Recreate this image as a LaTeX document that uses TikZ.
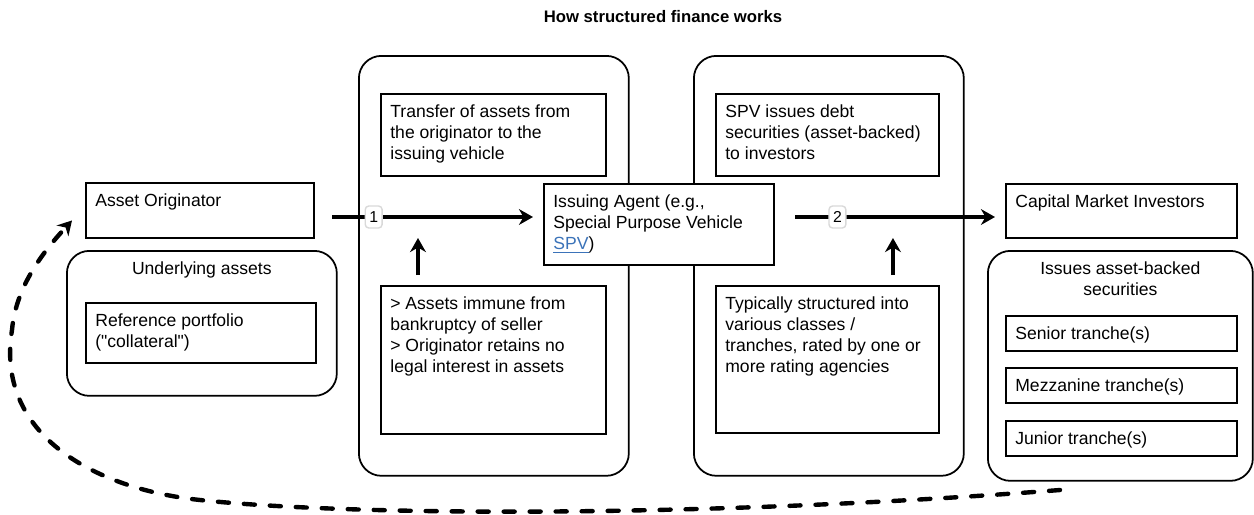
\documentclass[tikz,border=0pt]{standalone}
\usepackage{fontspec}
\setmainfont{Liberation Sans}
\newfontfamily\plainfont{Liberation Sans}
\usetikzlibrary{arrows.meta}
\definecolor{linkblue}{HTML}{3B73B9}

\begin{document}
\begin{tikzpicture}[x=0.02cm,y=-0.02cm,>={Stealth[length=8pt,width=9pt]},
    font=\fontsize{10}{12}\selectfont,
    card/.style={rectangle,draw,line width=1.4pt,fill=white,anchor=north west,inner sep=0pt},
    group/.style={rectangle,draw,line width=1pt,rounded corners=0.45cm,anchor=north west,inner sep=0pt},
    txt/.style={anchor=north west,align=left,inner xsep=0.2cm,inner ysep=0.22cm},
    head/.style={anchor=north,align=center,inner xsep=0pt,inner ysep=0.22cm},
    flow/.style={->,line width=2.4pt},
    loopback/.style={->,line width=2.5pt,line cap=round,dash pattern=on 0.22cm off 0.3cm},
    numtag/.style={draw=black!15,line width=0.8pt,fill=white,rounded corners=2pt,inner sep=1pt,minimum width=9.6pt,minimum height=12.5pt,font=\fontsize{9}{10}\selectfont}]
    \useasboundingbox (0,0) rectangle (1254,514);

    \node[font=\bfseries\fontsize{9.5}{11}\selectfont] (title) at (663,17) {How structured finance works};

    % originator side
    \node[card, minimum width=4.56cm, minimum height=1.10cm] (orig) at (85,182) {};
    \node[txt] (origtxt) at (orig.north west) {Asset Originator};
    \node[group, minimum width=5.40cm, minimum height=2.90cm] (under) at (66,250) {};
    \node[head] (undertxt) at (under.north) {Underlying assets};
    \node[card, minimum width=4.60cm, minimum height=1.20cm] (refp) at (85,302) {};
    \node[txt] (refptxt) at (refp.north west) {Reference portfolio\\{\plainfont ("collateral")}};

    % transfer column
    \node[group, minimum width=5.40cm, minimum height=8.40cm] (leftcol) at (358,55) {};
    \node[card, minimum width=4.50cm, minimum height=1.64cm] (transf) at (380,93) {};
    \node[txt] (transftxt) at (transf.north west) {Transfer of assets from\\the originator to the\\issuing vehicle};
    \node[card, minimum width=4.50cm, minimum height=2.96cm] (immune) at (380,285) {};
    \node[txt] (immunetxt) at (immune.north west) {> Assets immune from\\bankruptcy of seller\\> Originator retains no\\legal interest in assets};

    % issuing column
    \node[group, minimum width=5.40cm, minimum height=8.40cm] (rightcol) at (693,55) {};
    \node[card, minimum width=4.46cm, minimum height=1.64cm] (issue) at (715,93) {};
    \node[txt] (issuetxt) at (issue.north west) {SPV issues debt\\securities (asset-backed)\\to investors};
    \node[card, minimum width=4.46cm, minimum height=2.94cm] (typ) at (715,285) {};
    \node[txt] (typtxt) at (typ.north west) {Typically structured into\\various classes /\\tranches, rated by one or\\more rating agencies};

    \node[card, minimum width=4.60cm, minimum height=1.62cm] (spv) at (543,183) {};
    \node[txt] (spvtxt) at (spv.north west) {Issuing Agent (e.g.,\\Special Purpose Vehicle\\\textcolor{linkblue}{\underline{SPV}})};

    % investor side
    \node[card, minimum width=4.62cm, minimum height=1.08cm] (cmi) at (1005,183) {};
    \node[txt] (cmitxt) at (cmi.north west) {Capital Market Investors};
    \node[group, minimum width=5.30cm, minimum height=4.60cm] (abs) at (987,250) {};
    \node[head] (abstxt) at (abs.north) {Issues asset-backed\\securities};
    \node[card, minimum width=4.62cm, minimum height=0.70cm] (senior) at (1005,315) {};
    \node[txt] (seniortxt) at (senior.north west) {Senior tranche(s)};
    \node[card, minimum width=4.62cm, minimum height=0.70cm] (mezz) at (1005,367) {};
    \node[txt] (mezztxt) at (mezz.north west) {Mezzanine tranche(s)};
    \node[card, minimum width=4.62cm, minimum height=0.70cm] (junior) at (1005,420) {};
    \node[txt] (juniortxt) at (junior.north west) {Junior tranche(s)};

    % flows
    \coordinate (lane) at (0,217);
    \draw[flow, shorten <=0.34cm, shorten >=0.2cm] (orig.east |- lane) -- node[numtag, pos=0.256] (one) {1} (spv.west |- lane);
    \draw[flow, shorten <=0.40cm, shorten >=0.2cm] (spv.east |- lane) -- node[numtag, pos=0.27] (two) {2} (cmi.west |- lane);
    \draw[flow] ([xshift=0.76cm,yshift=0.2cm]immune.north west) -- ++(0,-37);
    \draw[flow] ([xshift=3.56cm,yshift=0.2cm]typ.north west) -- ++(0,-37);

    % way back to the originator
    \coordinate (loopstart) at (1060,490);
    \coordinate (back) at ([shift={(-13,-19)}]orig.south west);
    \draw[loopback] (loopstart) .. controls (700,518) and (350,516) .. (200,500)
        .. controls (95,489) and (-5,435) .. (12,330)
        .. controls (16,285) and (45,250) .. (back);
\end{tikzpicture}
\end{document}
